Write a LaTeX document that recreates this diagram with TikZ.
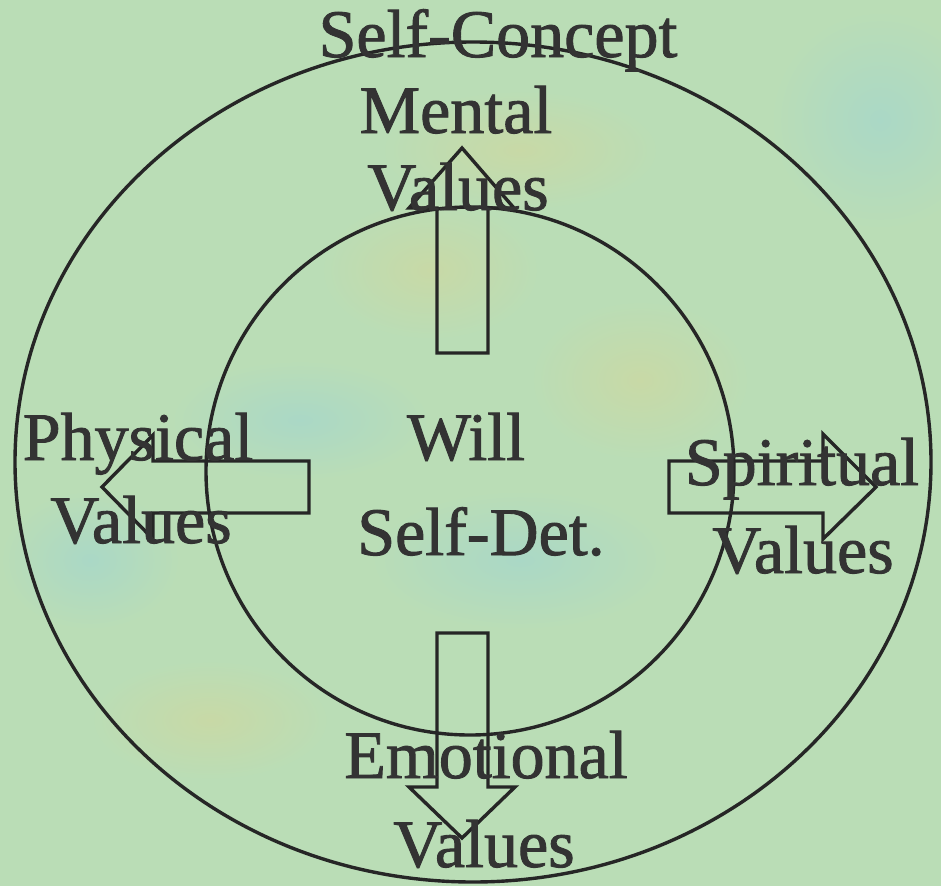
\documentclass[tikz,border=0pt]{standalone}
\usepackage{fontspec}
\setmainfont{Liberation Serif}
\newfontfamily\heavyserif{Liberation Serif}[FakeBold=1.3]
\definecolor{bg}{HTML}{BADDB6}
\definecolor{ink}{HTML}{262626}
\definecolor{txt}{HTML}{333333}
\definecolor{blu}{HTML}{AAD8C6}
\definecolor{yel}{HTML}{C8D9A6}
\begin{document}
\begin{tikzpicture}[x=1pt,y=-1pt,
  shape line/.style={draw=ink,line width=3.4pt,line join=miter},
  lbl/.style={text=txt,font=\heavyserif\fontsize{68}{78}\selectfont,anchor=base,inner sep=0pt}]
\useasboundingbox (0,0) rectangle (941,886);
\fill[bg] (0,0) rectangle (941,886);
% soft colour patches of the textured background
\shade[inner color=yel,outer color=bg] (520,150) ellipse (140 and 60);
\shade[inner color=yel,outer color=bg] (430,270) ellipse (110 and 70);
\shade[inner color=yel,outer color=bg] (640,380) ellipse (110 and 80);
\shade[inner color=blu,outer color=bg] (300,420) ellipse (130 and 60);
\shade[inner color=blu,outer color=bg] (520,560) ellipse (150 and 70);
\shade[inner color=blu,outer color=bg] (880,120) ellipse (110 and 110);
\shade[inner color=blu,outer color=bg] (90,560) ellipse (90 and 70);
\shade[inner color=yel,outer color=bg] (210,720) ellipse (120 and 60);
% circles
\draw[shape line] (473,462) ellipse (458 and 420);
\draw[shape line] (470,471) circle (264);
% arrows
\draw[shape line] (437,353) -- (437,208) -- (409,208) -- (462,148) -- (514,208) -- (488,208) -- (488,353) -- cycle;
\draw[shape line] (437,633) -- (437,787) -- (409,787) -- (462,838) -- (515,787) -- (488,787) -- (488,633) -- cycle;
\draw[shape line] (309,461) -- (153,461) -- (153,435) -- (102,487) -- (153,539) -- (153,513) -- (309,513) -- cycle;
\draw[shape line] (669,461) -- (823,461) -- (823,434) -- (876,487) -- (823,539) -- (823,513) -- (669,513) -- cycle;
% labels
\node[lbl] (selfconcept) at (498,57) {Self-Concept};
\node[lbl] (mental) at (456,133) {Mental};
\node[lbl] (mentalv) at (458,210) {Values};
\node[lbl] (physical) at (138,460) {Physical};
\node[lbl] (physicalv) at (141,543) {Values};
\node[lbl] (spiritual) at (802,485) {Spiritual};
\node[lbl] (spiritualv) at (803,573) {Values};
\node[lbl] (emotional) at (486,778) {Emotional};
\node[lbl] (emotionalv) at (484,867) {Values};
\node[lbl] (will) at (466,460) {Will};
\node[lbl] (selfdet) at (481,555) {Self-Det.};
\end{tikzpicture}
\end{document}
